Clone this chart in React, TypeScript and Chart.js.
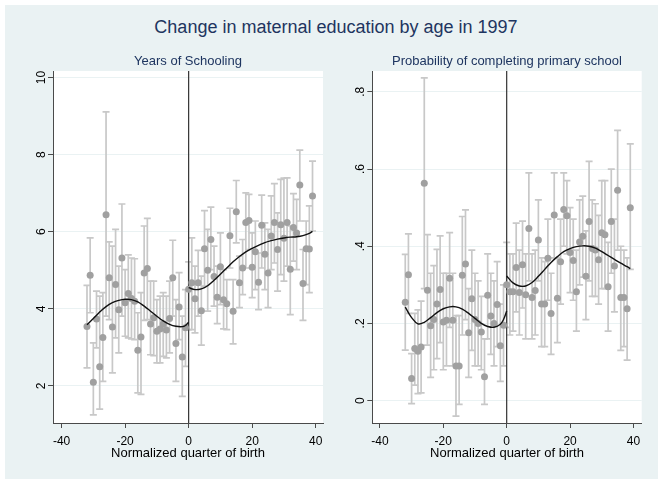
import React, { useEffect, useRef } from "react";
import { Chart, registerables } from "chart.js";
Chart.register(...registerables);

// ---------------- data ----------------
const quarters = [
  -32, -31, -30, -29, -28, -27, -26, -25, -24, -23, -22, -21, -20, -19, -18, -17,
  -16, -15, -14, -13, -12, -11, -10, -9, -8, -7, -6, -5, -4, -3, -2, -1,
  0, 1, 2, 3, 4, 5, 6, 7, 8, 9, 10, 11, 12, 13, 14, 15, 16, 17, 18, 19,
  20, 21, 22, 23, 24, 25, 26, 27, 28, 29, 30, 31, 32, 33, 34, 35, 36, 37, 38, 39,
];

const yearsMean = [
  3.54, 4.87, 2.10, 3.74, 2.50, 3.26, 6.44, 4.81, 3.53, 4.63, 3.98, 5.32, 4.16, 4.40, 4.27, 4.20,
  2.93, 3.27, 4.93, 5.05, 3.61, 3.77, 3.42, 3.48, 3.61, 3.45, 3.75, 4.81, 3.10, 4.05, 2.75, 3.51,
  4.51, 4.68, 4.26, 4.68, 3.95, 5.56, 5.00, 5.80, 4.84, 4.30, 5.09, 4.24, 4.13, 5.90, 3.94, 6.52, 4.68, 5.06, 6.24, 6.29,
  5.08, 5.48, 4.69, 6.17, 5.42, 4.93, 5.89, 6.24, 5.54, 6.18, 5.83, 6.24, 5.03, 6.11, 5.97, 7.21, 4.66, 5.56, 5.55, 6.93,
];
const yearsHi = [
  4.61, 5.84, 3.12, 4.46, 4.33, 4.42, 9.11, 5.74, 5.63, 6.06, 5.11, 6.72, 5.02, 5.40, 5.32, 5.30,
  3.90, 4.42, 6.15, 6.35, 4.72, 4.72, 4.24, 4.33, 4.42, 4.33, 4.72, 5.78, 4.24, 4.94, 3.81, 4.50,
  5.22, 5.84, 5.11, 5.52, 4.85, 6.55, 6.06, 6.64, 5.63, 5.11, 5.97, 5.02, 4.76, 6.61, 4.76, 7.33, 5.37, 5.80, 7.01, 6.97,
  5.97, 6.28, 5.45, 6.95, 6.23, 6.06, 6.93, 7.25, 6.49, 7.36, 7.39, 7.40, 6.15, 6.99, 6.84, 8.12, 5.54, 6.28, 6.67, 7.83,
];
const yearsLo = [
  2.47, 3.90, 1.25, 2.99, 1.40, 2.12, 3.81, 3.72, 2.34, 3.25, 2.86, 3.81, 3.29, 3.25, 3.22, 3.20,
  1.82, 1.78, 3.70, 3.72, 2.81, 2.79, 2.60, 2.60, 2.77, 2.73, 2.86, 3.81, 2.12, 3.20, 1.73, 2.51,
  3.46, 3.46, 3.38, 3.81, 3.06, 4.59, 3.94, 5.02, 4.07, 3.62, 4.11, 3.48, 3.46, 5.06, 3.09, 5.71, 4.03, 4.37, 5.06, 5.54,
  4.29, 4.50, 3.98, 5.06, 4.50, 4.03, 5.02, 5.19, 4.46, 4.89, 4.72, 5.11, 3.85, 5.24, 5.02, 6.28, 3.70, 4.63, 4.42, 6.02,
];

const probMean = [
  0.255, 0.326, 0.057, 0.135, 0.128, 0.139, 0.563, 0.286, 0.194, 0.210, 0.250, 0.288, 0.204, 0.208, 0.317, 0.208,
  0.090, 0.090, 0.325, 0.354, 0.176, 0.264, 0.210, 0.200, 0.178, 0.062, 0.273, 0.219, 0.200, 0.249, 0.142, 0.195,
  0.300, 0.282, 0.282, 0.345, 0.280, 0.352, 0.274, 0.446, 0.267, 0.285, 0.416, 0.250, 0.250, 0.369, 0.226, 0.481, 0.265, 0.360, 0.495, 0.479,
  0.384, 0.363, 0.282, 0.411, 0.426, 0.322, 0.464, 0.394, 0.390, 0.365, 0.435, 0.430, 0.295, 0.464, 0.349, 0.545, 0.267, 0.267, 0.238, 0.500,
];
const probHi = [
  0.379, 0.432, 0.122, 0.226, 0.235, 0.258, 0.836, 0.430, 0.330, 0.350, 0.392, 0.427, 0.330, 0.330, 0.435, 0.330,
  0.220, 0.220, 0.477, 0.494, 0.290, 0.390, 0.330, 0.310, 0.270, 0.160, 0.380, 0.330, 0.310, 0.360, 0.250, 0.300,
  0.410, 0.380, 0.380, 0.460, 0.390, 0.465, 0.380, 0.590, 0.380, 0.390, 0.520, 0.370, 0.360, 0.470, 0.330, 0.590, 0.370, 0.470, 0.590, 0.570,
  0.500, 0.470, 0.390, 0.520, 0.530, 0.440, 0.620, 0.520, 0.510, 0.480, 0.570, 0.570, 0.410, 0.600, 0.470, 0.700, 0.400, 0.390, 0.370, 0.665,
];
const probLo = [
  0.131, 0.226, -0.008, 0.040, 0.018, 0.020, 0.290, 0.144, 0.060, 0.080, 0.109, 0.150, 0.080, 0.090, 0.190, 0.090,
  -0.040, -0.010, 0.170, 0.210, 0.060, 0.130, 0.090, 0.090, 0.080, -0.010, 0.160, 0.120, 0.090, 0.140, 0.050, 0.090,
  0.190, 0.170, 0.180, 0.230, 0.170, 0.240, 0.160, 0.310, 0.160, 0.170, 0.310, 0.140, 0.140, 0.260, 0.120, 0.370, 0.150, 0.250, 0.400, 0.380,
  0.280, 0.260, 0.180, 0.300, 0.320, 0.210, 0.310, 0.270, 0.270, 0.250, 0.290, 0.290, 0.180, 0.330, 0.230, 0.390, 0.130, 0.140, 0.105, 0.340,
];

// fitted curves at these quarters
const fitPreX = [-32, -30, -28, -26, -24, -22, -20, -18, -16, -14, -12, -10, -8, -6, -4, -2, -1, 0];
const fitPostX = [0, 2, 4, 6, 8, 10, 12, 14, 16, 18, 20, 22, 24, 26, 28, 30, 32, 34, 36, 38, 39];
const yearsFitPre = [3.59, 3.75, 3.92, 4.06, 4.16, 4.22, 4.25, 4.24, 4.18, 4.07, 3.94, 3.81, 3.69, 3.60, 3.55, 3.54, 3.57, 3.65];
const yearsFitPost = [4.55, 4.50, 4.52, 4.60, 4.74, 4.90, 5.06, 5.22, 5.36, 5.48, 5.57, 5.65, 5.72, 5.77, 5.81, 5.84, 5.86, 5.87, 5.90, 5.96, 6.01];
const probFitPre = [0.242, 0.215, 0.199, 0.203, 0.215, 0.228, 0.238, 0.243, 0.243, 0.237, 0.226, 0.213, 0.200, 0.192, 0.190, 0.198, 0.210, 0.232];
const probFitPost = [0.323, 0.305, 0.297, 0.297, 0.306, 0.322, 0.340, 0.358, 0.373, 0.386, 0.394, 0.399, 0.401, 0.400, 0.395, 0.386, 0.376, 0.366, 0.356, 0.347, 0.342];

const xTicks = [-40, -20, 0, 20, 40];
const yearsTicks = [2, 4, 6, 8, 10];
const yearsTickLabels = ["2", "4", "6", "8", "10"];
const probTicks = [0, 0.2, 0.4, 0.6, 0.8];
const probTickLabels = ["0", ".2", ".4", ".6", ".8"];
const cutoff = 0;

const mainTitle = "Change in maternal education by age in 1997";
const xTitle = "Normalized quarter of birth";

// ---------------- styling ----------------
const FONT = "'Liberation Sans', Arial, Helvetica, sans-serif";
const BG = "#eaf2f3";
const NAVY = "#1e3560";
const AXIS = "#4a4a4a";
const DOT = "#a0a0a0";
const BAR = "#c8c8c8";

const pairs = (xs: number[], ys: number[]) => xs.map((x, i) => ({ x, y: ys[i] }));

const panelPlugin = {
  id: "panelDecor",
  beforeDraw(chart: any) {
    const { ctx, chartArea } = chart;
    ctx.save();
    ctx.fillStyle = "#ffffff";
    ctx.fillRect(chartArea.left, chartArea.top, chartArea.right - chartArea.left, chartArea.bottom - chartArea.top);
    ctx.restore();
  },
  beforeDatasetsDraw(chart: any) {
    const { ctx, chartArea } = chart;
    const xs = chart.scales.x;
    const ys = chart.scales.y;
    ctx.save();
    ctx.strokeStyle = BAR;
    ctx.lineWidth = 1.7;
    const cap = 3.5;
    chart.data.datasets.forEach((ds: any) => {
      if (!ds.errHi) return;
      ds.data.forEach((p: any, i: number) => {
        const px = xs.getPixelForValue(p.x);
        const t = ys.getPixelForValue(ds.errHi[i]);
        const b = ys.getPixelForValue(ds.errLo[i]);
        ctx.beginPath();
        ctx.moveTo(px, t);
        ctx.lineTo(px, b);
        ctx.moveTo(px - cap, t);
        ctx.lineTo(px + cap, t);
        ctx.moveTo(px - cap, b);
        ctx.lineTo(px + cap, b);
        ctx.stroke();
      });
    });
    const cx = xs.getPixelForValue(cutoff);
    ctx.strokeStyle = "#333333";
    ctx.lineWidth = 1.2;
    ctx.beginPath();
    ctx.moveTo(cx, chartArea.top);
    ctx.lineTo(cx, chartArea.bottom);
    ctx.stroke();
    ctx.restore();
  },
  afterDraw(chart: any) {
    const { ctx, chartArea } = chart;
    const ys = chart.scales.y;
    const labels: string[] = chart.options.plugins.panelDecor.labels;
    const vals: number[] = chart.options.plugins.panelDecor.values;
    ctx.save();
    ctx.fillStyle = "#000";
    ctx.font = `12px ${FONT}`;
    ctx.textAlign = "center";
    ctx.textBaseline = "alphabetic";
    vals.forEach((v, i) => {
      const py = ys.getPixelForValue(v);
      ctx.save();
      ctx.translate(chartArea.left - 8.5, py);
      ctx.rotate(-Math.PI / 2);
      ctx.fillText(labels[i], 0, 0);
      ctx.restore();
    });
    ctx.restore();
  },
};

type PanelProps = {
  title: string;
  mean: number[];
  hi: number[];
  lo: number[];
  fitPre: number[];
  fitPost: number[];
  yTicks: number[];
  yLabels: string[];
  xMin: number;
  xMax: number;
  yMin: number;
  yMax: number;
  yWidth: number;
  padRight: number;
  left: number;
};

function Panel(p: PanelProps) {
  const ref = useRef<HTMLCanvasElement | null>(null);
  useEffect(() => {
    if (!ref.current) return;
    const fitStyle = {
      type: "line" as const,
      pointRadius: 0,
      borderColor: "#111111",
      borderWidth: 1.4,
      tension: 0.4,
      fill: false,
      order: 0,
    };
    const chart = new Chart(ref.current, {
      type: "scatter",
      data: {
        datasets: [
          { ...fitStyle, data: pairs(fitPreX, p.fitPre) },
          { ...fitStyle, data: pairs(fitPostX, p.fitPost) },
          {
            type: "scatter",
            data: pairs(quarters, p.mean),
            errHi: p.hi,
            errLo: p.lo,
            pointRadius: 3.5,
            pointBackgroundColor: DOT,
            pointBorderWidth: 0,
            order: 1,
          } as any,
        ],
      },
      options: {
        animation: false,
        responsive: false,
        layout: { padding: { left: 0, right: p.padRight, top: 0, bottom: 0 } },
        plugins: {
          legend: { display: false },
          tooltip: { enabled: false },
          title: {
            display: true,
            text: p.title,
            fullSize: false,
            color: NAVY,
            font: { family: FONT, size: 13, weight: "normal", lineHeight: 1.2 },
            padding: { top: 13.5, bottom: 1.9 },
          },
          panelDecor: { labels: p.yLabels, values: p.yTicks },
        } as any,
        scales: {
          x: {
            type: "linear",
            min: p.xMin,
            max: p.xMax,
            afterBuildTicks: (s: any) => {
              s.ticks = xTicks.map((v) => ({ value: v }));
            },
            afterFit: (s: any) => {
              s.height = 58;
            },
            grid: { drawOnChartArea: false, drawTicks: true, tickLength: 5, tickColor: AXIS },
            border: { display: true, color: AXIS, width: 1 },
            ticks: { color: "#000", font: { family: FONT, size: 12 }, padding: 6, maxRotation: 0 },
            title: {
              display: true,
              text: xTitle,
              color: "#000",
              font: { family: FONT, size: 13, lineHeight: 1.2 },
              padding: { top: 0, bottom: 20 },
            },
          },
          y: {
            type: "linear",
            min: p.yMin,
            max: p.yMax,
            afterBuildTicks: (s: any) => {
              s.ticks = p.yTicks.map((v) => ({ value: v }));
            },
            afterFit: (s: any) => {
              s.width = p.yWidth;
            },
            grid: { color: BG, lineWidth: 1, drawTicks: true, tickLength: 5, tickColor: AXIS },
            border: { display: true, color: AXIS, width: 1 },
            ticks: { display: false },
          },
        },
      } as any,
      plugins: [panelPlugin],
    });
    return () => chart.destroy();
  }, []);
  return (
    <canvas
      ref={ref}
      width={329}
      height={441}
      style={{ position: "absolute", left: p.left, top: 40, width: 329, height: 441 }}
    />
  );
}

export default function App() {
  return (
    <div style={{ position: "absolute", left: 0, top: 0, width: 658, height: 481, background: "#ffffff", overflow: "hidden" }}>
      <div style={{ position: "absolute", left: 5, top: 5, width: 653, height: 474, background: BG }} />
      <div
        style={{
          position: "absolute",
          left: 7,
          top: 17,
          width: 658,
          textAlign: "center",
          fontFamily: FONT,
          fontSize: 18,
          lineHeight: "20px",
          color: NAVY,
          whiteSpace: "nowrap",
        }}
      >
        {mainTitle}
      </div>
      <Panel
        title="Years of Schooling"
        mean={yearsMean}
        hi={yearsHi}
        lo={yearsLo}
        fitPre={yearsFitPre}
        fitPost={yearsFitPost}
        yTicks={yearsTicks}
        yLabels={yearsTickLabels}
        xMin={-42.7}
        xMax={42.3}
        yMin={1.04}
        yMax={10.17}
        yWidth={53}
        padRight={6}
        left={0}
      />
      <Panel
        title="Probability of completing primary school"
        mean={probMean}
        hi={probHi}
        lo={probLo}
        fitPre={probFitPre}
        fitPost={probFitPost}
        yTicks={probTicks}
        yLabels={probTickLabels}
        xMin={-42.4}
        xMax={42.6}
        yMin={-0.058}
        yMax={0.854}
        yWidth={43.3}
        padRight={16.3}
        left={329}
      />
    </div>
  );
}
